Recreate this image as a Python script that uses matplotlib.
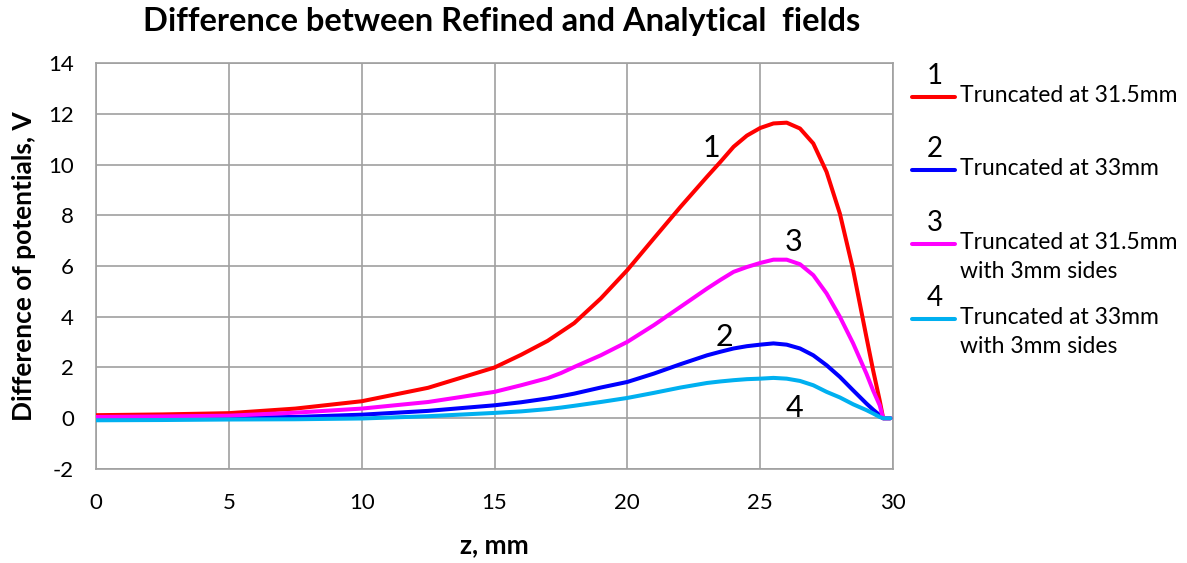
import matplotlib
matplotlib.use("Agg")
import matplotlib.pyplot as plt

plt.rcParams['font.family'] = ['Lato', 'DejaVu Sans']

# z positions (mm)
z = [0, 2.5, 5, 7.5, 10, 12.5, 15, 16, 17, 17.5, 18, 19, 20, 21, 22, 23, 23.5, 24, 24.5,
     25, 25.5, 26, 26.5, 27, 27.5, 28, 28.5, 29, 29.25, 29.5, 29.63, 29.9]

# difference of potentials (V) for each case
trunc_315 = [0.12, 0.15, 0.2, 0.38, 0.67, 1.2, 2.0, 2.5, 3.05, 3.4, 3.75, 4.72, 5.84,
             7.09, 8.33, 9.52, 10.1, 10.7, 11.14, 11.44, 11.62, 11.65, 11.42, 10.83,
             9.71, 8.07, 5.85, 3.2, 1.9, 0.7, 0.0, 0.0]
trunc_33 = [0.0, 0.0, 0.02, 0.05, 0.14, 0.29, 0.51, 0.63, 0.78, 0.87, 0.97, 1.21, 1.43,
            1.76, 2.13, 2.48, 2.62, 2.75, 2.84, 2.9, 2.95, 2.9, 2.75, 2.48,
            2.09, 1.63, 1.1, 0.58, 0.34, 0.12, 0.0, 0.0]
trunc_315_sides = [0.05, 0.07, 0.1, 0.22, 0.38, 0.64, 1.04, 1.3, 1.58, 1.78, 2.02, 2.48,
                   3.01, 3.67, 4.39, 5.11, 5.45, 5.77, 5.96, 6.12, 6.25, 6.25, 6.07, 5.64,
                   4.92, 4.0, 2.95, 1.76, 1.1, 0.51, 0.0, 0.0]
trunc_33_sides = [-0.08, -0.07, -0.05, -0.04, -0.01, 0.08, 0.21, 0.27, 0.36, 0.42, 0.49,
                  0.64, 0.8, 1.0, 1.21, 1.39, 1.45, 1.5, 1.54, 1.56, 1.59, 1.56, 1.47,
                  1.30, 1.04, 0.82, 0.55, 0.32, 0.19, 0.05, 0.0, 0.0]

series = [trunc_315, trunc_33, trunc_315_sides, trunc_33_sides]
colors = ['#FF0000', '#0000FF', '#FF00FF', '#00B0F0']
names = ['Truncated at 31.5mm', 'Truncated at 33mm',
         'Truncated at 31.5mm\nwith 3mm sides', 'Truncated at 33mm\nwith 3mm sides']
numbers = ['1', '2', '3', '4']
# where the curve numbers sit (data coords)
num_pos = [(23.15, 10.65), (23.65, 3.2), (26.25, 6.95), (26.3, 0.4)]

fig = plt.figure(figsize=(11.87, 5.63), dpi=100)
ax = fig.add_axes([0.0809, 0.167, 0.6714, 0.721])

for ys, c in zip(series, colors):
    ax.plot(z, ys, color=c, lw=2.9, solid_capstyle='round', solid_joinstyle='round', zorder=3)

for (px, py), n in zip(num_pos, numbers):
    ax.text(px, py, n, fontsize=22, ha='center', va='center')

ax.set_xlim(0, 30)
ax.set_ylim(-2, 14)
ax.set_xticks(range(0, 31, 5))
ax.set_yticks(range(-2, 15, 2))
ax.set_yticklabels([str(v) for v in range(-2, 15, 2)])
ax.grid(True, color='#A0A0A0', lw=1.2)
ax.set_axisbelow(True)
for s in ax.spines.values():
    s.set_color('#A0A0A0')
    s.set_linewidth(1.2)
ax.tick_params(length=0, labelsize=16)
ax.tick_params(axis='x', pad=17)
ax.tick_params(axis='y', pad=16)

ax.set_xlabel('z, mm', fontsize=19, fontweight='bold', labelpad=15)
ax.set_ylabel('Difference of potentials, V', fontsize=19, fontweight='bold', labelpad=9)
fig.text(0.423, 1 - 21 / 563, 'Difference between Refined and Analytical  fields',
         fontsize=23.5, fontweight='bold', ha='center', va='center')

# hand-made legend to the right of the plot
leg_y = [97, 170, 244, 319]
for yy, c, n, name in zip(leg_y, colors, numbers, names):
    fy = 1 - yy / 563
    fig.add_artist(plt.Line2D([912 / 1187, 955 / 1187], [fy, fy], color=c, lw=2.9,
                              solid_capstyle='round', transform=fig.transFigure))
    fig.text(935 / 1187, 1 - (yy - 21) / 563, n, fontsize=20, ha='center', va='center')
    fig.text(960 / 1187, 1 - (yy - 12) / 563, name, fontsize=16.5, ha='left', va='top',
             linespacing=1.45)

fig.savefig('out.png', dpi=100)
